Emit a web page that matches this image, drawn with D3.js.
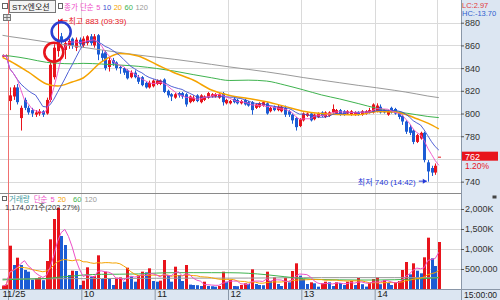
<!DOCTYPE html>
<html>
<head>
<meta charset="utf-8">
<script src="https://cdn.jsdelivr.net/npm/d3@7"></script>
<style>
  body { margin: 0; background: #fff; }
  svg { display: block; }
  text { font-family: "Liberation Sans", "Noto Sans CJK KR", sans-serif; }
</style>
</head>
<body>
<div id="chart"></div>
<script>
// STX엔오션 3-minute candles: two last bars of 11/24, then 11/25 09:00 ~ 14:51
const opens = [851, 851,
  811, 815, 823, 796, 812, 805, 803, 799, 800, 802, 800, 812, 832, 855, 868, 856, 860, 866, 858, 865,
  860, 862, 868, 860, 869, 853, 854, 841, 847, 845, 841, 840, 838, 832, 836, 832, 832, 827, 823, 824,
  826, 826, 830, 820, 817, 814, 818, 818, 817, 810, 811, 816, 810, 812, 814, 815, 815, 814, 818, 809,
  809, 813, 812, 809, 812, 810, 810, 805, 806, 807, 809, 802, 806, 803, 802, 805, 802, 799, 796, 789,
  794, 798, 800, 795, 797, 801, 797, 798, 801, 800, 803, 802, 800, 799, 799, 801, 799, 800, 801, 801,
  802, 806, 803, 799, 805, 804, 801, 798, 793, 788, 785, 775, 778, 783, 757, 752, 748, 762];
const highs = [852, 852,
  823, 825, 826, 807, 814, 807, 805, 803, 804, 803, 814, 845, 861, 883, 871, 865, 866, 867, 867, 867,
  868, 869, 870, 870, 870, 856, 855, 849, 849, 846, 842, 841, 839, 838, 838, 834, 833, 828, 829, 830,
  830, 830, 831, 821, 818, 818, 819, 819, 818, 816, 816, 817, 817, 816, 819, 818, 818, 818, 819, 813,
  812, 814, 813, 812, 813, 811, 811, 809, 810, 811, 810, 806, 807, 808, 807, 807, 803, 800, 797, 796,
  801, 801, 801, 800, 801, 802, 802, 802, 808, 804, 804, 803, 803, 803, 802, 802, 803, 803, 805, 809,
  809, 808, 804, 803, 806, 805, 802, 799, 794, 790, 786, 782, 784, 784, 759, 754, 756, 762];
const lows = [850, 850,
  803, 812, 808, 785, 803, 799, 797, 797, 798, 797, 799, 810, 830, 850, 861, 848, 857, 857, 855, 859,
  858, 860, 860, 858, 847, 846, 838, 837, 842, 838, 835, 834, 830, 831, 831, 826, 824, 822, 822, 823,
  825, 825, 818, 814, 811, 813, 814, 813, 806, 809, 810, 810, 809, 811, 813, 814, 814, 813, 807, 808,
  808, 809, 808, 808, 807, 806, 799, 804, 805, 806, 799, 801, 802, 802, 801, 797, 797, 791, 785, 788,
  793, 797, 793, 794, 796, 797, 796, 797, 800, 799, 798, 798, 799, 798, 798, 798, 798, 799, 800, 800,
  801, 800, 800, 798, 800, 799, 795, 790, 782, 781, 773, 774, 777, 757, 740, 745, 746, 762];
const closes = [851, 851,
  816, 823, 810, 805, 805, 801, 800, 801, 802, 799, 812, 843, 858, 865, 864, 862, 864, 860, 865, 861,
  866, 868, 862, 868, 852, 849, 840, 847, 844, 840, 840, 836, 831, 836, 832, 828, 825, 823, 827, 829,
  829, 829, 819, 816, 815, 817, 816, 815, 808, 815, 814, 811, 816, 815, 818, 817, 817, 817, 810, 812,
  811, 810, 809, 811, 808, 807, 803, 808, 809, 810, 800, 805, 803, 806, 806, 799, 799, 794, 788, 795,
  800, 800, 794, 799, 800, 798, 801, 801, 804, 803, 799, 799, 802, 802, 801, 799, 802, 802, 803, 808,
  807, 801, 801, 802, 801, 800, 797, 793, 784, 783, 775, 781, 783, 759, 749, 748, 754, 762];
// volume in thousands of shares
const volumesK = [80, 110,
  1083, 600, 783, 600, 475, 433, 230, 270, 290, 220, 700, 1242, 1750, 2033, 1325, 1100, 350, 458, 450, 100,
  208, 542, 308, 320, 842, 250, 433, 250, 100, 283, 290, 183, 533, 308, 183, 350, 433, 417, 517, 200,
  183, 208, 725, 350, 183, 558, 350, 200, 600, 110, 100, 95, 75, 183, 75, 70, 58, 75, 433, 183,
  225, 75, 70, 100, 142, 130, 492, 125, 100, 95, 433, 200, 292, 125, 75, 283, 167, 450, 642, 333,
  250, 125, 167, 142, 58, 142, 183, 167, 75, 167, 150, 100, 183, 200, 100, 275, 120, 60, 150, 250,
  292, 120, 225, 150, 100, 167, 200, 475, 675, 367, 642, 458, 392, 792, 1283, 767, 575, 1175];

// longer averages at a few candle positions
const maSlots = [0, 2, 7, 12, 15, 19, 22, 27, 32, 37, 42, 47, 52, 57, 62, 67, 72, 77, 82, 87, 92, 97, 102, 107, 110, 113, 116, 119];
const ma20 = [849.5, 846.3, 836.6, 826.0, 824.2, 827.8, 831.3, 845.4, 852.9, 850.7, 843.2, 835.7, 829.5, 820.7,
  815.9, 813.2, 810.3, 806.3, 802.0, 800.0, 799.2, 798.9, 801.8, 801.3, 799.2, 795.4, 791.6, 786.5];
const ma60 = [851.3, 850.7, 848.2, 845.1, 844.3, 843.8, 844.2, 843.6, 842.7, 841.6, 839.7, 837.3, 834.3, 831.5,
  829.1, 829.4, 828.6, 825.1, 820.9, 816.4, 812.8, 808.8, 804.7, 801.9, 800.4, 798.9, 797.4, 796.4];
const ma120 = [868.9, 867.8, 865.5, 863.0, 861.6, 859.7, 858.3, 856.0, 853.7, 851.5, 849.6, 847.7, 845.6, 843.3,
  841.0, 838.9, 836.7, 834.3, 831.7, 829.4, 827.1, 824.8, 822.7, 820.4, 818.9, 817.2, 815.4, 814.0];
const volMa60 = [227, 235, 250, 264, 292, 322, 350, 367, 370, 377, 398, 408, 408, 408,
  407, 393, 357, 307, 260, 237, 229, 225, 225, 232, 241, 251, 266, 283];
const volMa120 = [250, 250, 252, 255, 257, 259, 260, 262, 264, 266, 268, 270, 271, 272,
  272, 273, 276, 280, 283, 284, 284, 284, 284, 284, 284, 284, 284, 284];

const hourSlots = [2, 22, 42, 62, 82, 102];
const hourLabels = ["11/25", "10", "11", "12", "13", "14"];
const priceGrid = [880, 860, 840, 820, 800, 780, 760, 740];
const priceTicks = [880, 860, 840, 820, 800, 780, 740];   // 760 sits under the price tag
const volTicks = [2000, 1500, 1000, 500];
const circled = [{slot: 14, price: 854, color: "#e8141c"}, {slot: 16, price: 872, color: "#2c3fd0"}];

// ---- layout ----
const W = 500, H = 300;
const plotRight = 461;
const priceTop = 0, priceBottom = 193, volTop = 193, volBottom = 289;
const UP = "#e8141c", DOWN = "#1c5cd4";
const maColors = {5: "#ee4fc8", 10: "#3d4fd0", 20: "#f5a300", 60: "#3fb34f", 120: "#9a9a9a"};

const svg = d3.select("#chart").append("svg").attr("width", W).attr("height", H);

const x = d3.scaleLinear().domain([0, 122]).range([0.667, 448]);
const step = x(1) - x(0);
const cx = i => x(i) + step / 2;
const y = d3.scaleLinear().domain([730, 900]).range([priceBottom, priceTop]);
const yv = d3.scaleLinear().domain([0, 2400]).range([volBottom, volTop]);

function label(g, t, px, py, col, size) {
  return g.append("text").attr("x", px).attr("y", py).attr("fill", col).attr("font-size", size).text(t);
}
// pieces of a legend laid out one after the other
function row(g, parts, x0, yb, size) {
  let px = x0;
  parts.forEach(([t, col, gap]) => {
    const el = label(g, t, px, yb, col, size);
    px += el.node().getComputedTextLength() + gap;
  });
}

// backgrounds
svg.append("rect").attr("width", W).attr("height", H).attr("fill", "#fff");
svg.append("rect").attr("x", plotRight).attr("y", 0).attr("width", W - plotRight).attr("height", H).attr("fill", "#dce6f2");
svg.append("rect").attr("x", 0).attr("y", volBottom).attr("width", W).attr("height", H - volBottom).attr("fill", "#dce6f2");

// grid
const grid = svg.append("g").attr("stroke", "#dadada").attr("stroke-width", 1);
priceGrid.forEach(p => grid.append("line").attr("x1", 0).attr("x2", plotRight)
  .attr("y1", Math.round(y(p)) + 0.5).attr("y2", Math.round(y(p)) + 0.5));
volTicks.forEach(v => grid.append("line").attr("x1", 0).attr("x2", plotRight)
  .attr("y1", Math.round(yv(v)) + 0.5).attr("y2", Math.round(yv(v)) + 0.5));
hourSlots.slice(1).concat([119]).forEach(s => grid.append("line")
  .attr("x1", Math.round(x(s)) + 0.5).attr("x2", Math.round(x(s)) + 0.5).attr("y1", 0).attr("y2", volBottom));
svg.append("line").attr("x1", Math.round(x(2)) + 0.5).attr("x2", Math.round(x(2)) + 0.5)
  .attr("y1", 0).attr("y2", volBottom).attr("stroke", "#f07070");

// candles
const candles = opens.map((o, i) => ({i, o, h: highs[i], l: lows[i], c: closes[i], v: volumesK[i]}));
const cg = svg.append("g");
cg.selectAll("line").data(candles).enter().append("line")
  .attr("x1", d => Math.round(cx(d.i)) + 0.5).attr("x2", d => Math.round(cx(d.i)) + 0.5)
  .attr("y1", d => y(d.h)).attr("y2", d => y(d.l))
  .attr("stroke", d => d.c >= d.o ? UP : DOWN);
cg.selectAll("rect").data(candles).enter().append("rect")
  .attr("x", d => Math.round(cx(d.i)) - 1)
  .attr("width", 3)
  .attr("y", d => y(Math.max(d.o, d.c)))
  .attr("height", d => Math.max(1, Math.abs(y(d.o) - y(d.c))))
  .attr("fill", d => d.c >= d.o ? UP : DOWN);

// moving averages
function rolling(arr, n) {
  return arr.map((_, i) => d3.mean(arr.slice(Math.max(0, i - n + 1), i + 1)));
}
const lineIdx = d3.line().x((d, i) => cx(i)).y(d => y(d));
const lineSample = d3.line().curve(d3.curveMonotoneX).x((d, k) => cx(maSlots[k])).y(d => y(d));
const maG = svg.append("g").attr("fill", "none");
maG.append("path").attr("d", lineSample(ma120)).attr("stroke", maColors[120]).attr("stroke-width", 1);
maG.append("path").attr("d", lineSample(ma60)).attr("stroke", maColors[60]).attr("stroke-width", 1);
maG.append("path").attr("d", lineSample(ma20)).attr("stroke", maColors[20]).attr("stroke-width", 1.5);
maG.append("path").attr("d", lineIdx(rolling(closes, 10))).attr("stroke", maColors[10]).attr("stroke-width", 0.9);
maG.append("path").attr("d", lineIdx(rolling(closes, 5))).attr("stroke", maColors[5]).attr("stroke-width", 0.9);

// volume bars (red when volume rises against the previous bar)
svg.append("g").selectAll("rect").data(candles).enter().append("rect")
  .attr("x", d => Math.round(cx(d.i)) - 1)
  .attr("width", 3)
  .attr("y", d => yv(d.v))
  .attr("height", d => volBottom - yv(d.v))
  .attr("fill", (d, i) => i === 0 || d.v >= volumesK[i - 1] ? UP : DOWN);

const vLineIdx = d3.line().x((d, i) => cx(i)).y(d => yv(d));
const vLineSample = d3.line().curve(d3.curveMonotoneX).x((d, k) => cx(maSlots[k])).y(d => yv(d));
const vmaG = svg.append("g").attr("fill", "none").attr("stroke-width", 1);
vmaG.append("path").attr("d", vLineSample(volMa120)).attr("stroke", maColors[120]);
vmaG.append("path").attr("d", vLineSample(volMa60)).attr("stroke", maColors[60]);
vmaG.append("path").attr("d", vLineIdx(rolling(volumesK, 20))).attr("stroke", maColors[20]);
vmaG.append("path").attr("d", vLineIdx(rolling(volumesK, 5))).attr("stroke", maColors[5]);

// panel borders
svg.append("line").attr("x1", 0).attr("x2", plotRight).attr("y1", volTop + 0.5).attr("y2", volTop + 0.5).attr("stroke", "#8a8a8a");
svg.append("line").attr("x1", 0).attr("x2", W).attr("y1", volBottom + 0.5).attr("y2", volBottom + 0.5).attr("stroke", "#8a97a8");
svg.append("line").attr("x1", plotRight + 0.5).attr("x2", plotRight + 0.5).attr("y1", 0).attr("y2", H).attr("stroke", "#8a97a8");

// right axes
const axisStyle = g => {
  g.select(".domain").remove();
  g.selectAll(".tick line").attr("stroke", "#555");
  g.selectAll(".tick text").attr("fill", "#333").attr("font-size", 9).attr("x", 4);
};
svg.append("g").attr("transform", `translate(${plotRight},0)`)
  .call(d3.axisRight(y).tickValues(priceTicks).tickSize(3).tickFormat(d3.format("d")))
  .call(axisStyle);
svg.append("g").attr("transform", `translate(${plotRight},0)`)
  .call(d3.axisRight(yv).tickValues(volTicks).tickSize(3)
    .tickFormat(v => v >= 1000 ? d3.format(",")(v) + "K" : d3.format(",")(v * 1000)))
  .call(axisStyle);

// bottom time axis
const xAxis = svg.append("g").attr("transform", `translate(0,${volBottom})`)
  .call(d3.axisBottom(x).tickValues(hourSlots).tickSize(11).tickFormat((d, k) => hourLabels[k]));
xAxis.select(".domain").remove();
xAxis.selectAll(".tick line").attr("stroke", "#8a97a8");
xAxis.selectAll(".tick text").attr("fill", "#222").attr("font-size", 9.5)
  .attr("text-anchor", "start").attr("x", (d, k) => k === 0 ? -6 : 2).attr("y", 1).attr("dy", "0.71em");
label(svg, "15:00:00", 464, 298, "#222", 8.5);

// header texts
const hdr = svg.append("g");
hdr.append("rect").attr("x", 2.5).attr("y", 3.5).attr("width", 5).attr("height", 5).attr("fill", "#fff").attr("stroke", "#666");
hdr.append("rect").attr("x", 9.5).attr("y", 0.5).attr("width", 46).attr("height", 12).attr("fill", "#f4f4f4").attr("stroke", "#777");
label(hdr, "STX엔오션", 12, 10, "#222", 8);
hdr.append("rect").attr("x", 58.5).attr("y", 3.5).attr("width", 4).attr("height", 5).attr("fill", "#fff").attr("stroke", "#666");
row(hdr, [["종가 단순", maColors[5], 2.5], ["5", maColors[5], 2.5], ["10", maColors[10], 2.5],
  ["20", maColors[20], 2.5], ["60", maColors[60], 2.5], ["120", maColors[120], 0]], 64, 10, 7.5);
// small grid icon under the name
const ic = svg.append("g").attr("stroke", "#777").attr("fill", "#e6e6e6");
ic.append("rect").attr("x", 3.5).attr("y", 14.5).attr("width", 7).attr("height", 6);
ic.append("line").attr("x1", 3.5).attr("x2", 10.5).attr("y1", 17.5).attr("y2", 17.5);
ic.append("line").attr("x1", 7).attr("x2", 7).attr("y1", 14.5).attr("y2", 20.5);

label(svg, "LC:2.97", 462, 8, "#e23a3a", 7.5);
label(svg, "HC:-13.70", 462, 16, "#2f5fd0", 7.5);

// current price tag
const last = closes[closes.length - 1];
svg.append("rect").attr("x", 462).attr("y", y(last) - 5).attr("width", 36).attr("height", 9).attr("fill", "#e8141c");
label(svg, last, 465, y(last) + 3, "#fff", 9);
label(svg, "1.20%", 465, y(last) + 12, "#e8141c", 8.5);

// high / low annotations
const hiI = d3.maxIndex(highs), loI = d3.minIndex(lows);
const ann = svg.append("g");
ann.append("line").attr("x1", cx(hiI) + 1).attr("x2", cx(hiI) + 10).attr("y1", y(highs[hiI]) + 1.5).attr("y2", y(highs[hiI]) + 1.5).attr("stroke", UP);
ann.append("path").attr("d", `M${cx(hiI) + 1},${y(highs[hiI]) + 1.5}l4,-2.5v5z`).attr("fill", UP);
label(ann, `최고 ${highs[hiI]} (09:39)`, cx(hiI) + 11, y(highs[hiI]) + 5, UP, 8);
label(ann, `최저 ${lows[loI]} (14:42)`, cx(loI) - 70, y(lows[loI]) + 3, "#2438d8", 8);
ann.append("line").attr("x1", cx(loI) - 9).attr("x2", cx(loI) - 1).attr("y1", y(lows[loI]) - 0.5).attr("y2", y(lows[loI]) - 0.5).attr("stroke", "#2438d8");
ann.append("path").attr("d", `M${cx(loI) - 1},${y(lows[loI]) - 0.5}l-4,-2.5v5z`).attr("fill", "#2438d8");

// hand-drawn circles
svg.append("g").selectAll("circle").data(circled).enter().append("circle")
  .attr("cx", d => cx(d.slot)).attr("cy", d => y(d.price)).attr("r", 9.5)
  .attr("fill", "none").attr("stroke", d => d.color).attr("stroke-width", 2.6);

// volume header
const vh = svg.append("g");
vh.append("rect").attr("x", 2.5).attr("y", 196.5).attr("width", 4).attr("height", 4).attr("fill", "#fff").attr("stroke", "#666");
row(vh, [["거래량", "#3f9aa0", 4], ["단순", maColors[5], 3], ["5", maColors[5], 3],
  ["20", maColors[20], 7], ["60", maColors[60], 3], ["120", maColors[120], 0]], 9, 202, 7.5);
label(vh, "1,174,071주(202.27%)", 5, 210, "#333", 7.5);
svg.append("rect").attr("x", 492.5).attr("y", 195.5).attr("width", 4).attr("height", 3).attr("fill", "#444");
</script>
</body>
</html>
